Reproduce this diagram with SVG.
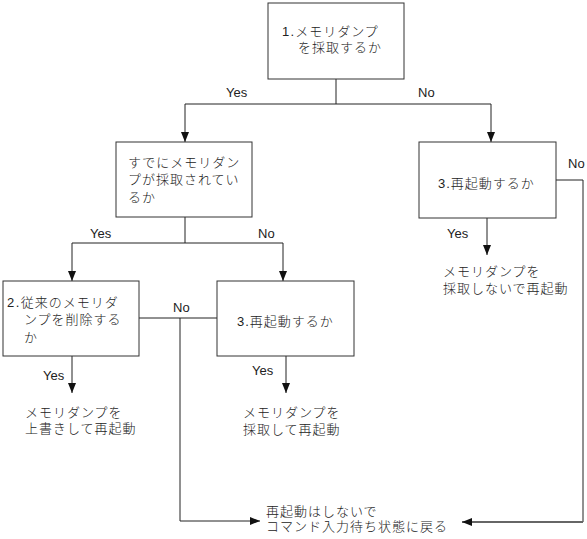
<svg xmlns="http://www.w3.org/2000/svg" width="587" height="539" viewBox="0 0 587 539">
<style>
.box{fill:#fff;stroke:#333;stroke-width:1}
.t{font-family:"Liberation Sans","Noto Sans CJK JP",sans-serif;font-size:13px;font-weight:300;fill:#222;letter-spacing:1px}
.l{font-family:"Liberation Sans","Noto Sans CJK JP",sans-serif;font-size:13px;fill:#222}
.c{fill:none;stroke:#222;stroke-width:1}
.g{fill:none;stroke:#666;stroke-width:2}
</style>
<defs>
<marker id="ah" markerUnits="userSpaceOnUse" markerWidth="10" markerHeight="8" refX="10" refY="4" orient="auto">
<path d="M0,0 L10,4 L0,8 z" fill="#111"/>
</marker>
</defs>
<rect width="587" height="539" fill="#fff"/>
<g id="connectors">
<path class="c" d="M336,79 V104 M185,104 H491"/>
<path class="c" d="M185,104 V142" marker-end="url(#ah)"/>
<path class="c" d="M491,104 V142" marker-end="url(#ah)"/>
<path class="c" d="M185,217 V243 M72,243 H283"/>
<path class="c" d="M72,243 V281" marker-end="url(#ah)"/>
<path class="c" d="M283,243 V281" marker-end="url(#ah)"/>
<path class="c" d="M139,318 H217"/>
<path class="c" d="M180,318 V521 H260" marker-end="url(#ah)"/>
<path class="c" d="M72,356 V393" marker-end="url(#ah)"/>
<path class="c" d="M286,356 V393" marker-end="url(#ah)"/>
<path class="c" d="M487,218 V255" marker-end="url(#ah)"/>
<path class="c" d="M556,180 H583 V522"/>
<path class="g" d="M583,522 H462" marker-end="url(#ah)"/>
<text class="l" x="226" y="97">Yes</text>
<text class="l" x="418" y="97">No</text>
<text class="l" x="90" y="238">Yes</text>
<text class="l" x="258" y="238">No</text>
<text class="l" x="173" y="312">No</text>
<text class="l" x="568" y="168">No</text>
<text class="l" x="447" y="238">Yes</text>
<text class="l" x="43" y="380">Yes</text>
<text class="l" x="252" y="375">Yes</text>
</g>
<g id="n1">
<rect class="box" x="268" y="3" width="136" height="76"/>
<text class="t" x="282" y="36"><tspan letter-spacing="1.2">1.</tspan>メモリダンプ<tspan x="298" dy="16">を採取するか</tspan></text>
</g>
<g id="n2">
<rect class="box" x="116" y="142" width="136" height="75"/>
<text class="t" x="128" y="167">すでにメモリダン<tspan x="128" dy="17">プが採取されてい</tspan><tspan x="128" dy="18">るか</tspan></text>
</g>
<g id="n3">
<rect class="box" x="3" y="281" width="136" height="75"/>
<text class="t" x="7" y="307"><tspan letter-spacing="1.5">2.</tspan>従来のメモリダ<tspan x="24" dy="17">ンプを削除する</tspan><tspan x="24" dy="18">か</tspan></text>
</g>
<g id="n4">
<rect class="box" x="217" y="281" width="137" height="75"/>
<text class="t" x="237" y="326">3.再起動するか</text>
</g>
<g id="n5">
<rect class="box" x="419" y="142" width="137" height="76"/>
<text class="t" x="438" y="188">3.再起動するか</text>
</g>
<g id="r1">
<text class="t" x="25" y="417">メモリダンプを<tspan x="25" dy="16">上書きして再起動</tspan></text>
</g>
<g id="r2">
<text class="t" x="243" y="417">メモリダンプを<tspan x="243" dy="17">採取して再起動</tspan></text>
</g>
<g id="r3">
<text class="t" x="443" y="276">メモリダンプを<tspan x="443" dy="17">採取しないで再起動</tspan></text>
</g>
<g id="r4">
<text class="t" x="266" y="516">再起動はしないで<tspan x="266" dy="15">コマンド入力待ち状態に戻る</tspan></text>
</g>
</svg>
